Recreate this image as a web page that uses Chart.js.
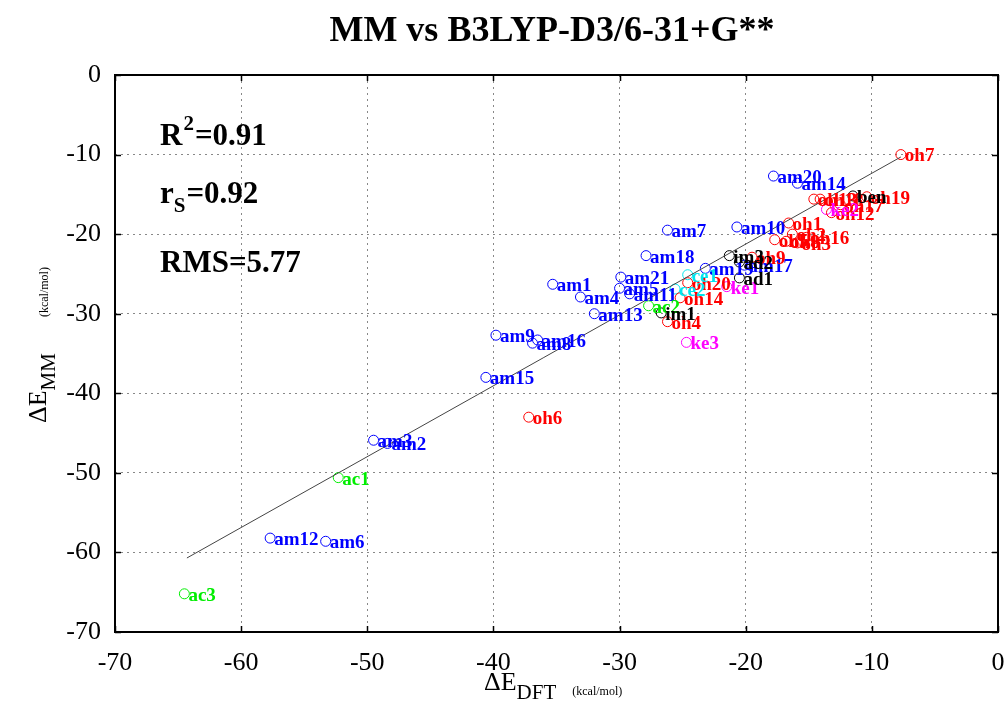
<!DOCTYPE html>
<html>
<head>
<meta charset="utf-8">
<script src="https://cdn.jsdelivr.net/npm/chart.js@4.4.1/dist/chart.umd.min.js"></script>
<style>
  html, body { margin: 0; padding: 0; background: #fff; }
  #wrap { width: 1008px; height: 711px; }
</style>
</head>
<body>
<div id="wrap"><canvas id="scatter"></canvas></div>
<script>
// amides
const amNames = ['am20', 'am14', 'am7', 'am10', 'am18', 'am19', 'am17', 'am21', 'am5', 'am1', 'am4', 'am11', 'am13', 'am9', 'am8', 'am16', 'am15', 'am3', 'am2', 'am12', 'am6'];
const amX = [-17.8, -15.9, -26.2, -20.7, -27.9, -23.2, -20.1, -29.9, -30.0, -35.3, -33.1, -29.2, -32.0, -39.8, -36.9, -36.5, -40.6, -49.5, -48.4, -57.7, -53.3];
const amY = [-12.7, -13.6, -19.5, -19.1, -22.7, -24.3, -23.9, -25.4, -26.8, -26.3, -27.9, -27.5, -30.0, -32.7, -33.7, -33.3, -38.0, -45.9, -46.3, -58.2, -58.6];

// alcohols
const ohNames = ['oh7', 'oh1', 'oh19', 'oh13', 'oh18', 'oh17', 'oh12', 'oh5', 'oh8', 'oh3', 'oh16', 'oh2', 'oh9', 'oh20', 'oh14', 'oh4', 'oh6'];
const ohX = [-7.7, -16.6, -10.4, -14.6, -14.1, -12.5, -13.2, -17.7, -16.8, -15.9, -15.2, -16.3, -19.5, -24.6, -25.2, -26.2, -37.2];
const ohY = [-10.0, -18.6, -15.3, -15.6, -15.6, -16.3, -17.3, -20.7, -20.9, -21.1, -20.4, -20.0, -22.9, -26.1, -28.0, -31.0, -43.0];

// acids
const acNames = ['ac1', 'ac3', 'ac2'];
const acX = [-52.3, -64.5, -27.7];
const acY = [-50.6, -65.2, -29.0];

// esters
const ceNames = ['ce1', 'ce2'];
const ceX = [-24.6, -25.6];
const ceY = [-25.1, -26.9];

// ketones
const keNames = ['ke1', 'ke3', 'ke2'];
const keX = [-21.5, -24.7, -13.6];
const keY = [-26.6, -33.6, -16.9];

// others
const imNames = ['ben', 'im1', 'im3', 'ad2', 'ad1'];
const imX = [-11.5, -26.7, -21.3, -20.5, -20.5];
const imY = [-15.2, -29.9, -22.7, -23.5, -25.5];

// least-squares fit endpoints
const fitX = [-64.3, -7.7];
const fitY = [-60.7, -10.3];

const ticks = [-70, -60, -50, -40, -30, -20, -10, 0];

function pts(xs, ys) {
    return xs.map((x, i) => ({ x: x, y: ys[i] }));
}

function group(names, xs, ys, color) {
    return {
        type: 'scatter',
        names: names,
        data: pts(xs, ys),
        borderColor: color,
        backgroundColor: 'rgba(0,0,0,0)',
        pointRadius: 5,
        pointBorderWidth: 1,
        pointStyle: 'circle',
    };
}

const serif = '"Liberation Serif", "DejaVu Serif", serif';

// title, stats text, axis titles, frame, inner ticks and point labels
const decor = {
    id: 'decor',
    afterDatasetsDraw(chart) {
        const ctx = chart.ctx;
        const a = chart.chartArea;
        const sx = chart.scales.x, sy = chart.scales.y;
        ctx.save();

        // point labels
        ctx.font = 'bold 19px ' + serif;
        ctx.textBaseline = 'middle';
        ctx.textAlign = 'left';
        chart.data.datasets.forEach(ds => {
            if (!ds.names) return;
            ctx.fillStyle = ds.borderColor;
            ds.data.forEach((p, i) => {
                ctx.fillText(ds.names[i], sx.getPixelForValue(p.x) + 4, sy.getPixelForValue(p.y) + 2);
            });
        });

        // frame
        ctx.strokeStyle = '#000';
        ctx.lineWidth = 2;
        ctx.strokeRect(a.left, a.top, a.right - a.left, a.bottom - a.top);

        // inward tick marks
        ctx.lineWidth = 1.5;
        ticks.forEach(t => {
            const px = Math.round(sx.getPixelForValue(t)) + 0.5;
            const py = Math.round(sy.getPixelForValue(t)) + 0.5;
            ctx.beginPath();
            ctx.moveTo(px, a.bottom); ctx.lineTo(px, a.bottom - 6);
            ctx.moveTo(px, a.top); ctx.lineTo(px, a.top + 6);
            ctx.moveTo(a.left, py); ctx.lineTo(a.left + 6, py);
            ctx.moveTo(a.right, py); ctx.lineTo(a.right - 6, py);
            ctx.stroke();
        });

        ctx.fillStyle = '#000';
        // title
        ctx.font = 'bold 36px ' + serif;
        ctx.textAlign = 'center';
        ctx.textBaseline = 'alphabetic';
        ctx.fillText('MM vs B3LYP-D3/6-31+G**', 552, 41);

        // statistics
        ctx.textAlign = 'left';
        ctx.font = 'bold 31px ' + serif;
        ctx.fillText('R', 160, 145);
        let w = ctx.measureText('R').width;
        ctx.font = 'bold 21px ' + serif;
        ctx.fillText('2', 160 + w + 1, 130);
        let w2 = ctx.measureText('2').width;
        ctx.font = 'bold 31px ' + serif;
        ctx.fillText('=0.91', 160 + w + w2 + 2, 145);

        ctx.fillText('r', 160, 203);
        w = ctx.measureText('r').width;
        ctx.font = 'bold 21px ' + serif;
        ctx.fillText('S', 160 + w, 212);
        w2 = ctx.measureText('S').width;
        ctx.font = 'bold 31px ' + serif;
        ctx.fillText('=0.92', 160 + w + w2 + 1, 203);

        ctx.fillText('RMS=5.77', 160, 272);

        // x axis title
        ctx.font = '26px ' + serif;
        ctx.fillText('\u0394E', 484, 690);
        w = ctx.measureText('\u0394E').width;
        ctx.font = '21px ' + serif;
        ctx.fillText('DFT', 484 + w, 699);
        w2 = ctx.measureText('DFT').width;
        ctx.font = '12px ' + serif;
        ctx.fillText('(kcal/mol)', 484 + w + w2 + 16, 695);

        // y axis title
        ctx.translate(46, 423);
        ctx.rotate(-Math.PI / 2);
        ctx.font = '26px ' + serif;
        ctx.fillText('\u0394E', 0, 0);
        w = ctx.measureText('\u0394E').width;
        ctx.font = '21px ' + serif;
        ctx.fillText('MM', w, 9);
        w2 = ctx.measureText('MM').width;
        ctx.font = '12px ' + serif;
        ctx.fillText('(kcal/mol)', w + w2 + 36, 2);

        ctx.restore();
    }
};

const chart = new Chart(document.querySelector('#scatter'), {
    type: 'scatter',
    data: {
        datasets: [
            {
                type: 'line',
                data: pts(fitX, fitY),
                borderColor: '#444',
                borderWidth: 1,
                pointRadius: 0,
                fill: false,
            },
            group(amNames, amX, amY, '#0000ff'),
            group(ohNames, ohX, ohY, '#ff0000'),
            group(acNames, acX, acY, '#00ee00'),
            group(ceNames, ceX, ceY, '#00e5ee'),
            group(keNames, keX, keY, '#ff00ff'),
            group(imNames, imX, imY, '#000000'),
        ],
    },
    options: {
        responsive: true,
        maintainAspectRatio: false,
        animation: false,
        layout: { padding: { top: 75, right: 10, left: 0, bottom: 0 } },
        plugins: {
            legend: { display: false },
            tooltip: { enabled: false },
        },
        scales: {
            x: {
                type: 'linear',
                min: -70,
                max: 0,
                afterBuildTicks: s => { s.ticks = ticks.map(v => ({ value: v })); },
                afterFit: s => { s.height = 79; s.paddingLeft = 0; s.paddingRight = 0; },
                border: { display: false, dash: [2, 4] },
                grid: {
                    color: '#888',
                    lineWidth: 1,
                    drawTicks: false,
                },
                ticks: {
                    color: '#000',
                    padding: 16,
                    font: { family: serif, size: 26 },
                },
            },
            y: {
                type: 'linear',
                min: -70,
                max: 0,
                afterBuildTicks: s => { s.ticks = ticks.map(v => ({ value: v })); },
                afterFit: s => { s.width = 115; s.paddingTop = 0; s.paddingBottom = 0; },
                border: { display: false, dash: [2, 4] },
                grid: {
                    color: '#888',
                    lineWidth: 1,
                    drawTicks: false,
                },
                ticks: {
                    color: '#000',
                    padding: 14,
                    font: { family: serif, size: 26 },
                },
            },
        },
    },
    plugins: [decor],
});
</script>
</body>
</html>
